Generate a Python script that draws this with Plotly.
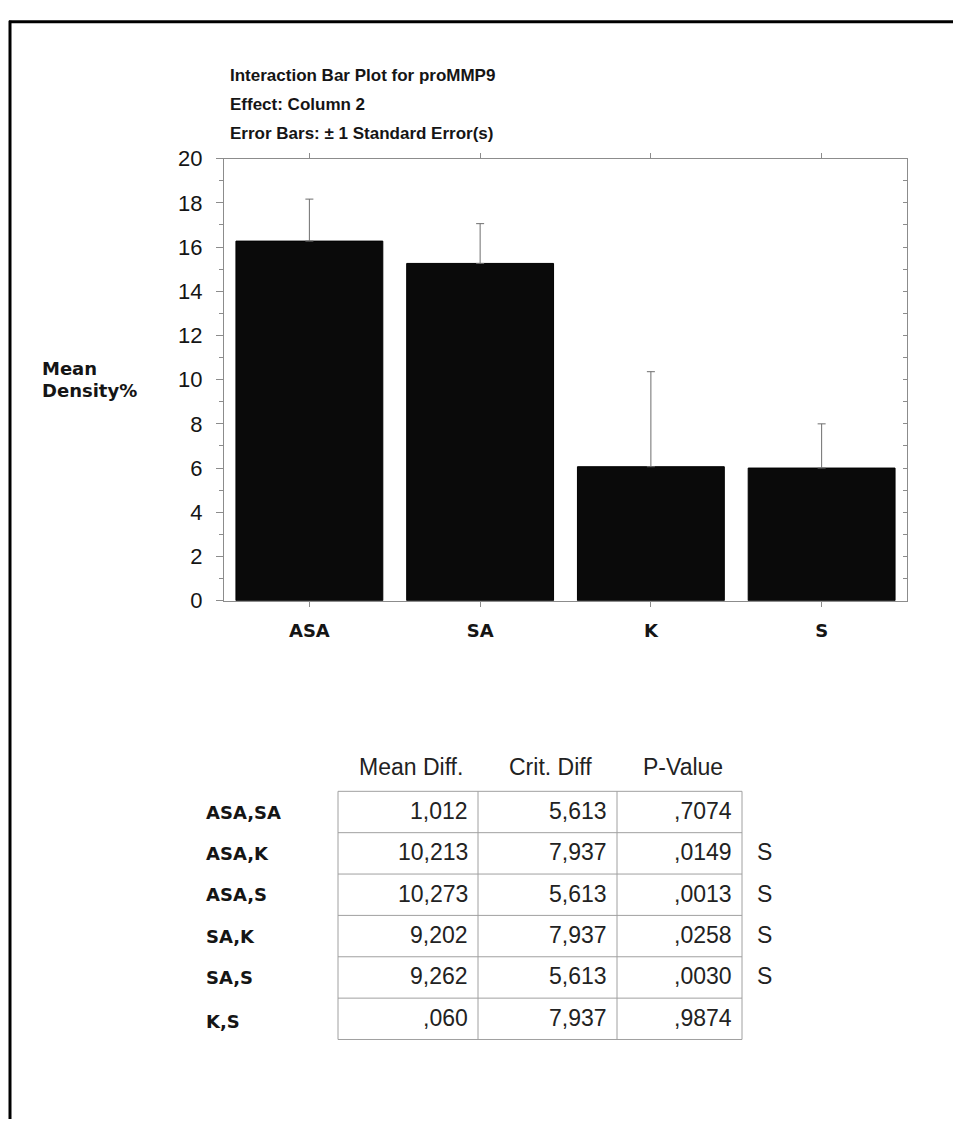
import plotly.graph_objects as go

# ---------------- data ----------------
categories = ["ASA", "SA", "K", "S"]
mean_density = [16.27, 15.26, 6.06, 6.00]
std_error = [1.90, 1.80, 4.30, 2.00]
y_ticks = [0, 2, 4, 6, 8, 10, 12, 14, 16, 18, 20]

title_lines = [
    "Interaction Bar Plot for proMMP9",
    "Effect: Column 2",
    "Error Bars: \u00b1 1 Standard Error(s)",
]
y_title = ["Mean", "Density%"]

table_headers = ["Mean Diff.", "Crit. Diff", "P-Value"]
pair_labels = ["ASA,SA", "ASA,K", "ASA,S", "SA,K", "SA,S", "K,S"]
mean_diff = ["1,012", "10,213", "10,273", "9,202", "9,262", ",060"]
crit_diff = ["5,613", "7,937", "5,613", "7,937", "5,613", "7,937"]
p_value = [",7074", ",0149", ",0013", ",0258", ",0030", ",9874"]
signif = ["", "S", "S", "S", "S", ""]

# ---------------- geometry (pixels) ----------------
W, H = 953, 1127
def px(x):
    return x / W
def py(y):
    return 1 - y / H

PLOT_L, PLOT_R, PLOT_T, PLOT_B = 224, 907, 150, 602

SANS = "Liberation Sans, Arial, sans-serif"
PIXEL_BOLD = "DejaVu Sans, Verdana, sans-serif"
AXIS_GREY = "#8c8c8c"
TEXT = "#151515"

fig = go.Figure()

fig.add_trace(go.Bar(
    x=categories,
    y=mean_density,
    marker=dict(color="#0a0a0a", line=dict(color="#000000", width=1)),
    error_y=dict(type="data", array=std_error, arrayminus=[0] * len(std_error),
                 symmetric=False, color="#6e6e6e", thickness=1, width=4),
    showlegend=False,
))

# invisible trace carrying the right-hand mirrored axis with inward ticks
fig.add_trace(go.Scatter(x=categories, y=mean_density, yaxis="y2", mode="markers",
                         marker=dict(opacity=0), showlegend=False, hoverinfo="skip"))

fig.update_layout(
    width=W, height=H,
    margin=dict(l=0, r=0, t=0, b=0),
    paper_bgcolor="white", plot_bgcolor="white",
    bargap=0.14,
    xaxis=dict(
        domain=[px(PLOT_L), px(PLOT_R)],
        showline=True, linecolor=AXIS_GREY, linewidth=1, mirror="ticks",
        ticks="outside", ticklen=5, tickcolor=AXIS_GREY, tickwidth=1,
        ticklabelstandoff=9,
        tickfont=dict(family=PIXEL_BOLD, size=18, color=TEXT, weight="bold"),
        showgrid=False, zeroline=False, fixedrange=True,
    ),
    yaxis=dict(
        domain=[py(PLOT_B), py(PLOT_T)],
        range=[0, 20],
        tickvals=y_ticks, ticktext=[str(v) for v in y_ticks],
        showline=True, linecolor=AXIS_GREY, linewidth=1,
        ticks="outside", ticklen=7, tickcolor=AXIS_GREY, tickwidth=1,
        ticklabelstandoff=9,
        minor=dict(dtick=1, ticks="outside", ticklen=4, tickcolor=AXIS_GREY),
        tickfont=dict(family=SANS, size=22, color=TEXT),
        showgrid=False, zeroline=False, fixedrange=True,
    ),
    yaxis2=dict(
        overlaying="y", side="right", anchor="x",
        range=[0, 20], dtick=1,
        showline=True, linecolor=AXIS_GREY, linewidth=1,
        ticks="inside", ticklen=4, tickcolor=AXIS_GREY,
        showticklabels=False, showgrid=False, zeroline=False, fixedrange=True,
    ),
)

shapes = []
annotations = []

# page border (top and left heavy rules)
shapes.append(dict(type="line", xref="paper", yref="paper",
                   x0=px(9), x1=px(W + 5), y0=py(10), y1=py(10),
                   line=dict(color="black", width=3)))
shapes.append(dict(type="line", xref="paper", yref="paper",
                   x0=px(10), x1=px(10), y0=py(9), y1=py(H + 5),
                   line=dict(color="black", width=3)))

# title block
for i, line in enumerate(title_lines):
    annotations.append(dict(
        text=line, xref="paper", yref="paper", x=px(228), y=py(65 + 29.5 * i),
        xanchor="left", yanchor="middle", showarrow=False,
        font=dict(family=SANS, size=17, color=TEXT, weight="bold"),
    ))

# y-axis title (horizontal, two lines)
for i, line in enumerate(y_title):
    annotations.append(dict(
        text=line, xref="paper", yref="paper", x=px(40), y=py(365 + 22 * i),
        xanchor="left", yanchor="middle", showarrow=False,
        font=dict(family=PIXEL_BOLD, size=18, color=TEXT, weight="bold"),
    ))

# ---------------- comparison table ----------------
col_edges = [338, 478, 617, 742]
row_top = 797
row_h = 42.3
header_y = 772
label_x = 204
sig_x = 755
TABLE_GREY = "#a0a0a0"

n_rows = len(pair_labels)
table_bottom = row_top + n_rows * row_h
for xe in col_edges:
    shapes.append(dict(type="line", xref="paper", yref="paper",
                       x0=px(xe), x1=px(xe), y0=py(row_top), y1=py(table_bottom),
                       line=dict(color=TABLE_GREY, width=1)))
for r in range(n_rows + 1):
    yy = row_top + r * row_h
    shapes.append(dict(type="line", xref="paper", yref="paper",
                       x0=px(col_edges[0]), x1=px(col_edges[-1]), y0=py(yy), y1=py(yy),
                       line=dict(color=TABLE_GREY, width=1)))

for c, head in enumerate(table_headers):
    annotations.append(dict(
        text=head, xref="paper", yref="paper",
        x=px((col_edges[c] + col_edges[c + 1]) / 2 + 3), y=py(header_y),
        xanchor="center", yanchor="middle", showarrow=False,
        font=dict(family=SANS, size=23, color="#222222"),
    ))

columns = [mean_diff, crit_diff, p_value]
for r in range(n_rows):
    yc = row_top + (r + 0.5) * row_h
    annotations.append(dict(
        text=pair_labels[r], xref="paper", yref="paper",
        x=px(label_x), y=py(yc + (3 if r == n_rows - 1 else 0)),
        xanchor="left", yanchor="middle", showarrow=False,
        font=dict(family=PIXEL_BOLD, size=18, color=TEXT, weight="bold"),
    ))
    for c, col in enumerate(columns):
        annotations.append(dict(
            text=col[r], xref="paper", yref="paper",
            x=px(col_edges[c + 1] - 8), y=py(yc - 1),
            xanchor="right", yanchor="middle", showarrow=False,
            font=dict(family=SANS, size=23, color="#222222"),
        ))
    if signif[r]:
        annotations.append(dict(
            text=signif[r], xref="paper", yref="paper",
            x=px(sig_x), y=py(yc - 1),
            xanchor="left", yanchor="middle", showarrow=False,
            font=dict(family=SANS, size=23, color="#222222"),
        ))

fig.update_layout(shapes=shapes, annotations=annotations)

fig.write_html("out.html", config={"displayModeBar": False},
               post_script="document.body.style.margin='0';")
